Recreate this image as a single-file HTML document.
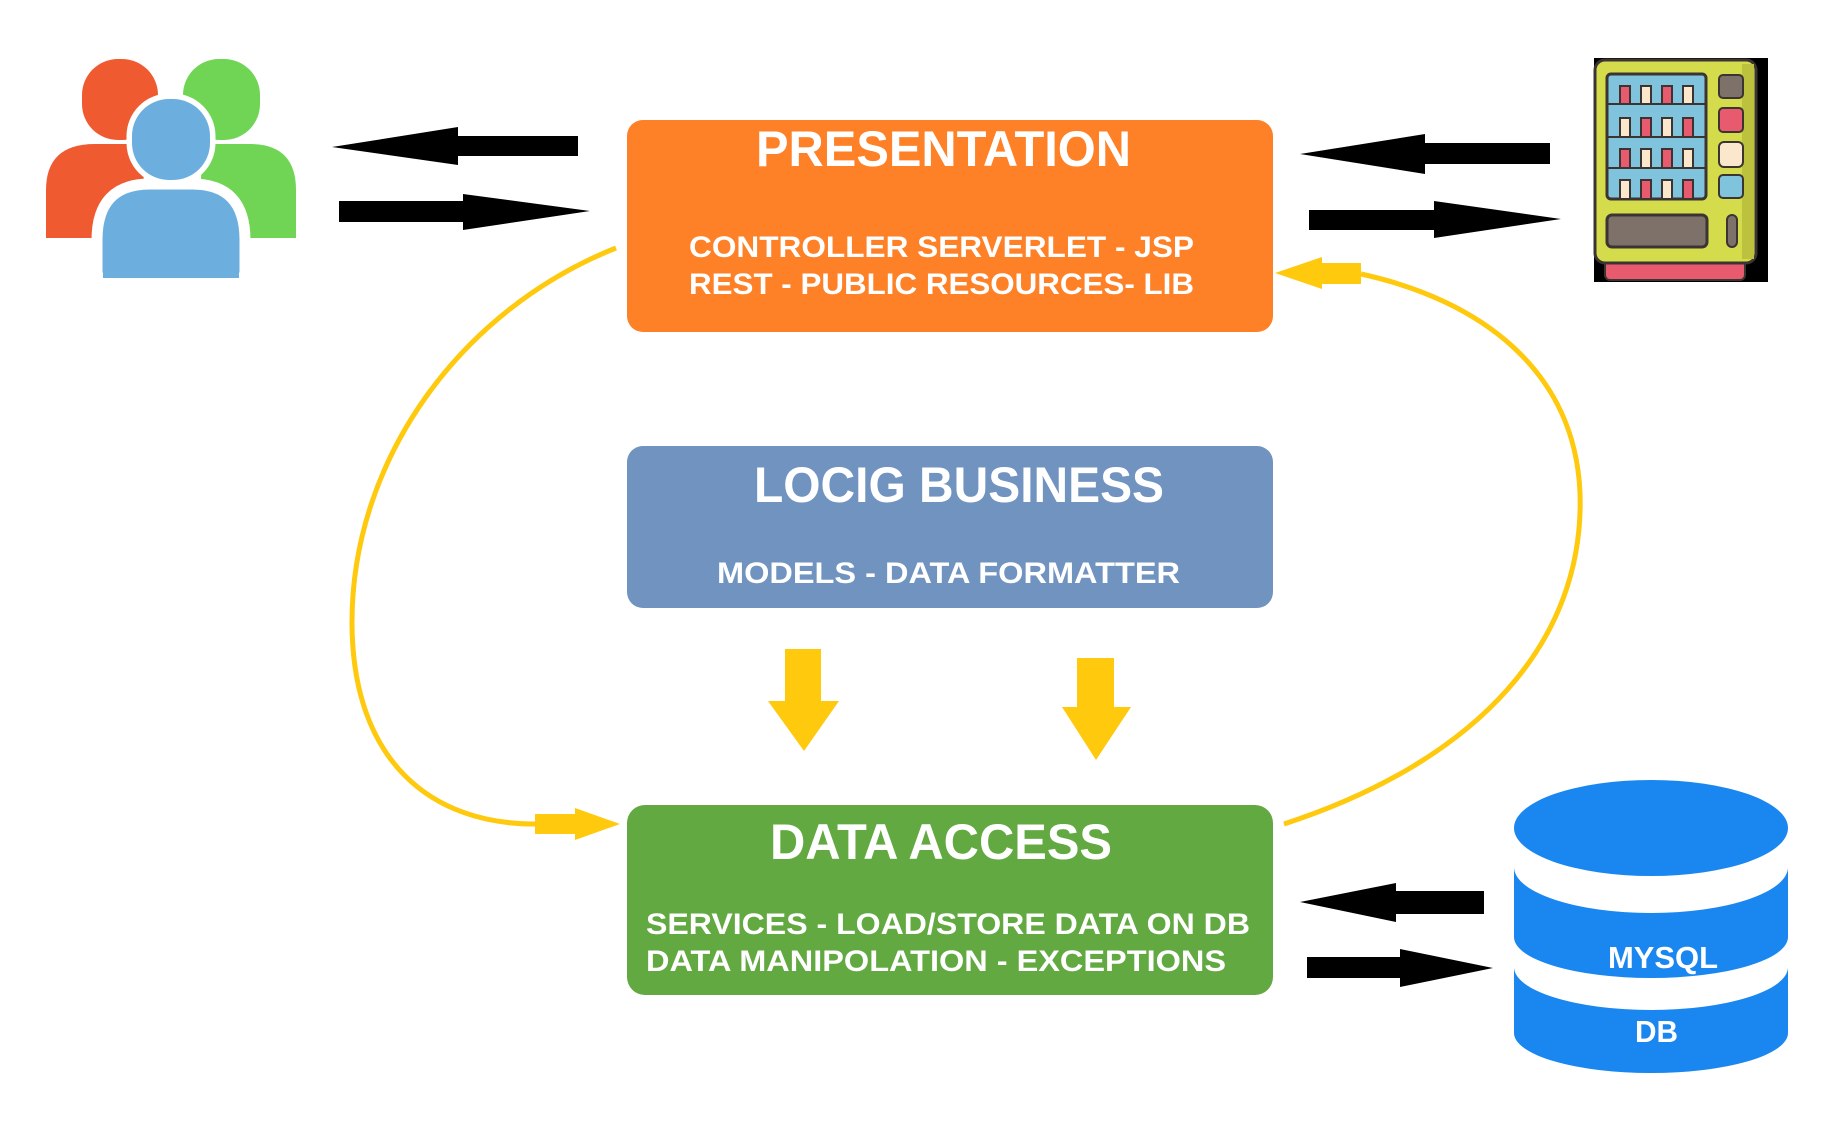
<!DOCTYPE html>
<html><head><meta charset="utf-8"><style>html,body{margin:0;padding:0;background:#fff}svg{display:block}</style></head>
<body>
<svg width="1830" height="1132" viewBox="0 0 1830 1132" xmlns="http://www.w3.org/2000/svg" font-family="Liberation Sans, Arial, sans-serif" font-weight="bold">
<rect width="1830" height="1132" fill="#fff"/>
<!-- people icon -->
<g>
<rect x="82" y="59" width="76" height="81" rx="36" fill="#f05a30"/>
<path d="M46,238 L46,190 Q46,144 95,144 L140,144 Q150,190 133,238 Z" fill="#f05a30"/>
<rect x="183" y="59" width="77" height="81" rx="36" fill="#70d454"/>
<path d="M296,238 L296,190 Q296,144 250,144 L205,144 Q195,190 210,238 Z" fill="#70d454"/>
<rect x="132" y="99" width="78" height="81" rx="37" fill="#6cafdf" stroke="#fff" stroke-width="11"/>
<path d="M97,278 L97,240 Q97,184 150,184 L192,184 Q245,184 245,240 L245,278 Z" fill="#6cafdf" stroke="#fff" stroke-width="11"/>
<path d="M103,278 L103,240 Q103,190 150,190 L192,190 Q239,190 239,240 L239,278 Z" fill="#6cafdf"/>
<rect x="132" y="99" width="78" height="81" rx="37" fill="#6cafdf"/>
</g>
<!-- vending machine -->
<g>
<rect x="1594" y="58" width="174" height="224" fill="#000"/>
<rect x="1605" y="256" width="140" height="24" rx="5" fill="#e85a6e" stroke="#3b3433" stroke-width="2"/>
<rect x="1595" y="60" width="161" height="203" rx="10" fill="#d4dc4c" stroke="#3b3433" stroke-width="3"/>
<rect x="1742" y="64" width="12" height="195" fill="#bcc23e"/>
<rect x="1607" y="74" width="99" height="125" rx="4" fill="#7fc4dc" stroke="#3b3433" stroke-width="3"/>
<g stroke="#3b3433" stroke-width="2"><line x1="1607" y1="104" x2="1706" y2="104"/><line x1="1607" y1="137" x2="1706" y2="137"/><line x1="1607" y1="168" x2="1706" y2="168"/></g>
<g stroke="#3b3433" stroke-width="2">
<rect x="1620" y="86" width="10" height="18" fill="#e85a6e"/><rect x="1641" y="86" width="10" height="18" fill="#fbe8cc"/><rect x="1662" y="86" width="10" height="18" fill="#e85a6e"/><rect x="1683" y="86" width="10" height="18" fill="#fbe8cc"/>
<rect x="1620" y="118" width="10" height="19" fill="#fbe8cc"/><rect x="1641" y="118" width="10" height="19" fill="#e85a6e"/><rect x="1662" y="118" width="10" height="19" fill="#fbe8cc"/><rect x="1683" y="118" width="10" height="19" fill="#e85a6e"/>
<rect x="1620" y="149" width="10" height="19" fill="#e85a6e"/><rect x="1641" y="149" width="10" height="19" fill="#fbe8cc"/><rect x="1662" y="149" width="10" height="19" fill="#e85a6e"/><rect x="1683" y="149" width="10" height="19" fill="#fbe8cc"/>
<rect x="1620" y="180" width="10" height="19" fill="#fbe8cc"/><rect x="1641" y="180" width="10" height="19" fill="#e85a6e"/><rect x="1662" y="180" width="10" height="19" fill="#fbe8cc"/><rect x="1683" y="180" width="10" height="19" fill="#e85a6e"/>
<rect x="1719" y="75" width="24" height="23" rx="4" fill="#7d716a"/>
<rect x="1719" y="108" width="24" height="24" rx="4" fill="#e85a6e"/>
<rect x="1719" y="142" width="24" height="25" rx="5" fill="#fbe8cc"/>
<rect x="1719" y="175" width="24" height="23" rx="4" fill="#7fc4dc"/>
<rect x="1607" y="215" width="100" height="32" rx="5" fill="#7d716a" stroke-width="3"/>
<rect x="1727" y="215" width="10" height="32" rx="5" fill="#7d716a"/>
</g>
</g>
<!-- boxes -->
<rect x="627" y="120" width="646" height="212" rx="16" fill="#fe8027"/>
<rect x="627" y="446" width="646" height="162" rx="16" fill="#7093c0"/>
<rect x="627" y="805" width="646" height="190" rx="18" fill="#62a942"/>
<g fill="#fff">
<text x="756" y="166" font-size="50" textLength="375" lengthAdjust="spacingAndGlyphs">PRESENTATION</text>
<text x="689" y="257" font-size="30" textLength="505" lengthAdjust="spacingAndGlyphs">CONTROLLER SERVERLET - JSP</text>
<text x="689" y="294" font-size="30" textLength="505" lengthAdjust="spacingAndGlyphs">REST - PUBLIC RESOURCES- LIB</text>
<text x="754" y="502" font-size="50" textLength="410" lengthAdjust="spacingAndGlyphs">LOCIG BUSINESS</text>
<text x="717" y="583" font-size="30" textLength="463" lengthAdjust="spacingAndGlyphs">MODELS - DATA FORMATTER</text>
<text x="770" y="859" font-size="50" textLength="342" lengthAdjust="spacingAndGlyphs">DATA ACCESS</text>
<text x="646" y="934" font-size="30" textLength="604" lengthAdjust="spacingAndGlyphs">SERVICES - LOAD/STORE DATA ON DB</text>
<text x="646" y="971" font-size="30" textLength="580" lengthAdjust="spacingAndGlyphs">DATA MANIPOLATION  - EXCEPTIONS</text>
</g>
<!-- black arrows -->
<g fill="#000">
<rect x="452" y="136" width="126" height="20"/><polygon points="332,147 458,127 458,165"/>
<rect x="339" y="201" width="130" height="21"/><polygon points="590,211 463,194 463,230"/>
<rect x="1419" y="143" width="131" height="21"/><polygon points="1300,154 1425,134 1425,174"/>
<rect x="1309" y="210" width="131" height="20"/><polygon points="1561,219 1434,201 1434,238"/>
<rect x="1390" y="891" width="94" height="23"/><polygon points="1300,902 1396,883 1396,922"/>
<rect x="1307" y="957" width="99" height="21"/><polygon points="1493,968 1400,949 1400,987"/>
</g>
<!-- yellow -->
<g fill="#ffc90e">
<rect x="785" y="649" width="36" height="54"/><polygon points="768,701 839,701 804,751"/>
<rect x="1077" y="658" width="37" height="51"/><polygon points="1062,707 1131,707 1096,760"/>
<rect x="1318" y="263" width="43" height="21"/><polygon points="1275,273 1322,257 1322,289"/>
<rect x="535" y="814" width="42" height="20"/><polygon points="620,824 575,808 575,840"/>
</g>
<g fill="none" stroke="#ffc90e" stroke-width="5">
<path d="M616,248 C460,310 352,460 352,622 C352,760 430,826 540,824"/>
<path d="M1284,824 C1480,760 1585,640 1580,493 C1575,370 1480,300 1361,274"/>
</g>
<!-- database -->
<g fill="#1a87f0">
<path d="M1514,1033 L1514,967 A137,43 0 0 0 1788,967 L1788,1033 A137,40 0 0 1 1514,1033 Z"/>
<path d="M1514,937 L1514,867 A137,46 0 0 0 1788,867 L1788,937 A137,41 0 0 1 1514,937 Z"/>
<ellipse cx="1651" cy="828" rx="137" ry="48"/>
</g>
<g fill="#fff">
<text x="1608" y="968" font-size="31" textLength="110" lengthAdjust="spacingAndGlyphs">MYSQL</text>
<text x="1635" y="1042" font-size="31" textLength="43" lengthAdjust="spacingAndGlyphs">DB</text>
</g>
</svg>
</body></html>
